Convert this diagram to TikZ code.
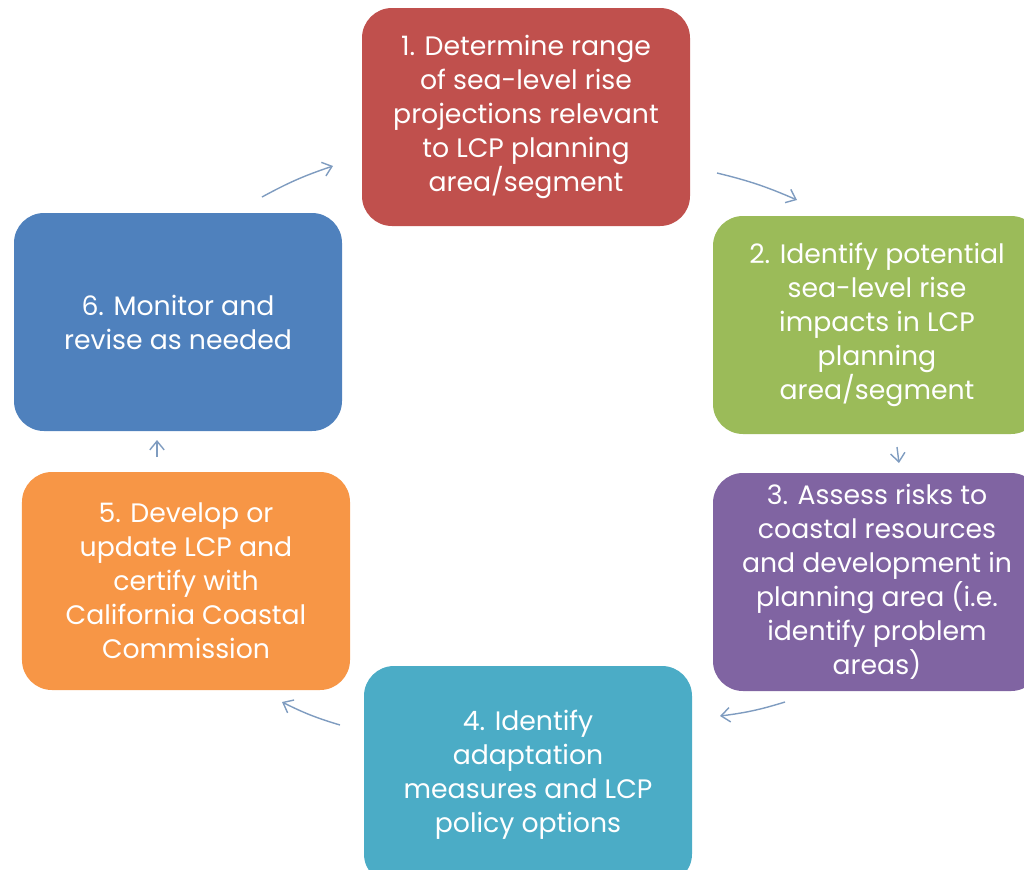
\documentclass[tikz,border=0pt]{standalone}
\usepackage{fontspec}
\setmainfont{Poppins}
\usetikzlibrary{arrows.meta}
\definecolor{stepred}{HTML}{C0504D}
\definecolor{stepgreen}{HTML}{9BBB59}
\definecolor{steppurple}{HTML}{8064A2}
\definecolor{stepcyan}{HTML}{4BACC6}
\definecolor{steporange}{HTML}{F79646}
\definecolor{stepblue}{HTML}{4F81BD}
\definecolor{flowblue}{HTML}{7F9CC0}
\tikzset{
  stage/.style={rounded corners=0.75cm, minimum width=8.2cm, minimum height=5.45cm,
    inner sep=0pt, text=white, align=center, font=\fontsize{19}{24.2}\selectfont},
  flow/.style={draw=flowblue, line width=1pt, -{Straight Barb[length=2.2mm,width=3.6mm]}}
}
\begin{document}
\begin{tikzpicture}
  \useasboundingbox (0,0) rectangle (25.6,-21.725);
  \node[stage, fill=stepred] (s1) at (13.15,-2.925)
    {1. Determine range\\of sea-level rise\\projections relevant\\to LCP planning\\area/segment};
  \node[stage, fill=stepgreen] (s2) at (21.925,-8.125)
    {2. Identify potential\\sea-level rise\\impacts in LCP\\planning\\area/segment};
  \node[stage, fill=steppurple] (s3) at (21.925,-14.55)
    {3. Assess risks to\\coastal resources\\and development in\\planning area (i.e.\\identify problem\\areas)};
  \node[stage, fill=stepcyan] (s4) at (13.2,-19.375)
    {4. Identify\\adaptation\\measures and LCP\\policy options};
  \node[stage, fill=steporange] (s5) at (4.65,-14.525)
    {5. Develop or\\update LCP and\\certify with\\California Coastal\\Commission};
  \node[stage, fill=stepblue] (s6) at (4.45,-8.05)
    {6. Monitor and\\revise as needed};
  % arrow ends
  \coordinate (a1s) at (6.55,-4.925);  \coordinate (a1e) at (8.325,-4.15);
  \coordinate (a2s) at (17.925,-4.325); \coordinate (a2e) at (19.925,-5.0);
  \coordinate (a3s) at (22.425,-11.175); \coordinate (a3e) at (22.475,-11.575);
  \coordinate (a4s) at (19.625,-17.55); \coordinate (a4e) at (18.0,-17.9);
  \coordinate (a5s) at (8.5,-18.125);  \coordinate (a5e) at (7.05,-17.55);
  \coordinate (a6s) at (3.925,-11.425); \coordinate (a6e) at (3.925,-11.0);
  \begin{scope}[flow]
    \draw (a1s) to[bend left=5] (a1e);
    \draw (a2s) to[bend left=5] (a2e);
    \draw (a3s) to (a3e);
    \draw (a4s) to[bend left=5] (a4e);
    \draw (a5s) to[bend left=5] (a5e);
    \draw (a6s) to (a6e);
  \end{scope}
\end{tikzpicture}
\end{document}
